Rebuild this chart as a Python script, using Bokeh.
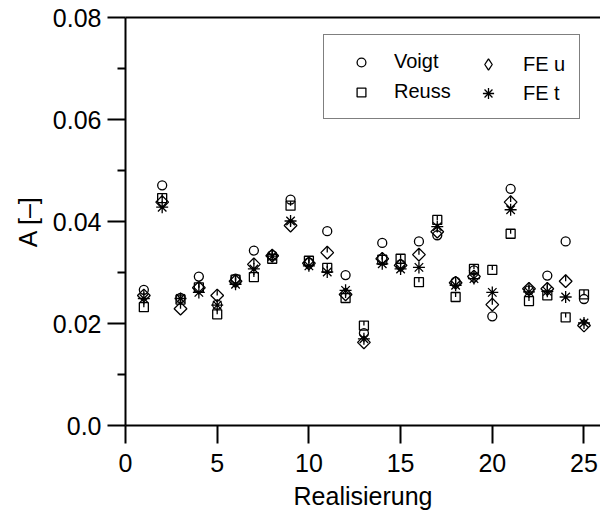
import math
from bokeh.plotting import figure
from bokeh.models import FixedTicker, LinearAxis, Legend, LegendItem, Range1d
from bokeh.embed import file_html
from bokeh.resources import INLINE

realisierung = list(range(1, 26))
voigt = [0.0266, 0.0471, 0.0250, 0.0292, 0.0237, 0.0288, 0.0343, 0.0334, 0.0443, 0.0320,
         0.0381, 0.0295, 0.0181, 0.0358, 0.0316, 0.0361, 0.0373, 0.0282, 0.0304, 0.0214,
         0.0464, 0.0265, 0.0294, 0.0361, 0.0248]
reuss = [0.0232, 0.0446, 0.0247, 0.0271, 0.0218, 0.0286, 0.0291, 0.0327, 0.0431, 0.0323,
         0.0309, 0.0250, 0.0196, 0.0325, 0.0327, 0.0281, 0.0403, 0.0252, 0.0307, 0.0305,
         0.0376, 0.0244, 0.0255, 0.0212, 0.0257]
fe_u = [0.0255, 0.0438, 0.0229, 0.0270, 0.0255, 0.0283, 0.0316, 0.0333, 0.0392, 0.0318,
        0.0339, 0.0257, 0.0163, 0.0327, 0.0314, 0.0335, 0.0380, 0.0280, 0.0292, 0.0237,
        0.0438, 0.0268, 0.0268, 0.0283, 0.0196]
fe_t = [0.0249, 0.0428, 0.0249, 0.0261, 0.0236, 0.0277, 0.0307, 0.0332, 0.0401, 0.0313,
        0.0301, 0.0265, 0.0170, 0.0317, 0.0307, 0.0310, 0.0390, 0.0275, 0.0288, 0.0261,
        0.0423, 0.0262, 0.0263, 0.0252, 0.0201]

x_ticks = [0, 5, 10, 15, 20, 25]
y_ticks = [0.0, 0.02, 0.04, 0.06, 0.08]
y_tick_labels = ["0.0", "0.02", "0.04", "0.06", "0.08"]
y_minor_ticks = [0.01, 0.03, 0.05, 0.07]

FONT = "Liberation Sans"

p = figure(width=600, height=527, x_range=Range1d(0, 25.9), y_range=Range1d(0, 0.08),
           output_backend="svg", toolbar_location=None,
           min_border_left=125, min_border_top=17, min_border_right=0, min_border_bottom=102,
           x_axis_label="Realisierung", y_axis_label="A [–]")
p.grid.visible = False
p.outline_line_color = None
p.background_fill_color = "white"
p.border_fill_color = "white"

for ax in (p.xaxis[0], p.yaxis[0]):
    ax.axis_line_width = 2
    ax.axis_line_color = "black"
    ax.major_tick_line_width = 2
    ax.minor_tick_line_width = 2
    ax.major_tick_line_color = "black"
    ax.minor_tick_line_color = "black"
    ax.major_tick_in = 0
    ax.major_tick_out = 18
    ax.minor_tick_in = 0
    ax.major_label_text_font = FONT
    ax.major_label_text_font_size = "25px"
    ax.major_label_text_color = "black"
    ax.axis_label_text_font = FONT
    ax.axis_label_text_font_size = "25px"
    ax.axis_label_text_font_style = "normal"
    ax.axis_label_text_color = "black"

p.xaxis.ticker = FixedTicker(ticks=x_ticks)
p.xaxis.minor_tick_out = 0
p.xaxis.major_label_standoff = 10
p.xaxis.axis_label_standoff = 7
p.yaxis.ticker = FixedTicker(ticks=y_ticks, minor_ticks=y_minor_ticks)
p.yaxis.minor_tick_out = 8
p.yaxis.major_label_standoff = 6
p.yaxis.axis_label_standoff = 8
p.yaxis.major_label_overrides = {t: s for t, s in zip(y_ticks, y_tick_labels)}

top_axis = LinearAxis(ticker=FixedTicker(ticks=[]), axis_line_width=2, axis_line_color="black",
                      major_tick_out=0, major_tick_in=0, minor_tick_out=0, minor_tick_in=0,
                      major_label_text_font_size="0px")
p.add_layout(top_axis, "above")

MW = 1.3
r_v = p.scatter(realisierung, voigt, marker="circle", size=9, fill_color=None,
                line_color="black", line_width=MW)
r_r = p.scatter(realisierung, reuss, marker="square", size=9, fill_color=None,
                line_color="black", line_width=MW)
p.ray(realisierung, reuss, length=4.5, length_units="screen", angle=math.pi / 2,
      line_color="black", line_width=MW)
p.scatter(realisierung, fe_u, marker="square", angle=math.pi / 4, size=9,
          fill_color=None, line_color="black", line_width=MW)
p.ray(realisierung, fe_u, length=6.3, length_units="screen", angle=math.pi / 2,
      line_color="black", line_width=MW)
r_t = p.scatter(realisierung, fe_t, marker="asterisk", size=12,
                line_color="black", line_width=MW)
# legend symbol for FE u: legend markers are drawn unrotated, so a diamond glyph is used
# there; it lives on a separate (off-frame) y range so it only appears in the legend
p.extra_y_ranges = {"legend_only": Range1d(1, 2)}
r_u_leg = p.scatter(realisierung, fe_u, y_range_name="legend_only",
                    marker="diamond", fill_color=None, line_color="black", line_width=MW)

leg1 = Legend(items=[LegendItem(label="Voigt", renderers=[r_v]),
                     LegendItem(label="Reuss", renderers=[r_r])],
              location=(198, 306), padding=15, spacing=7, glyph_width=44, glyph_height=22,
              label_height=22, label_standoff=11, label_width=170,
              label_text_font=FONT, label_text_font_size="20px", label_text_color="black",
              border_line_color="black", border_line_width=1.5,
              background_fill_color="white", background_fill_alpha=1)
leg2 = Legend(items=[LegendItem(label="FE u", renderers=[r_u_leg]),
                     LegendItem(label="FE t", renderers=[r_t])],
              location=(326, 306), padding=12, spacing=1, glyph_width=50, glyph_height=28,
              label_height=28, label_standoff=10, label_width=20,
              label_text_font=FONT, label_text_font_size="20px", label_text_color="black",
              border_line_color="black", border_line_alpha=0, background_fill_alpha=0)
p.add_layout(leg1)
p.add_layout(leg2)

open("out.html", "w").write(file_html(p, INLINE))
